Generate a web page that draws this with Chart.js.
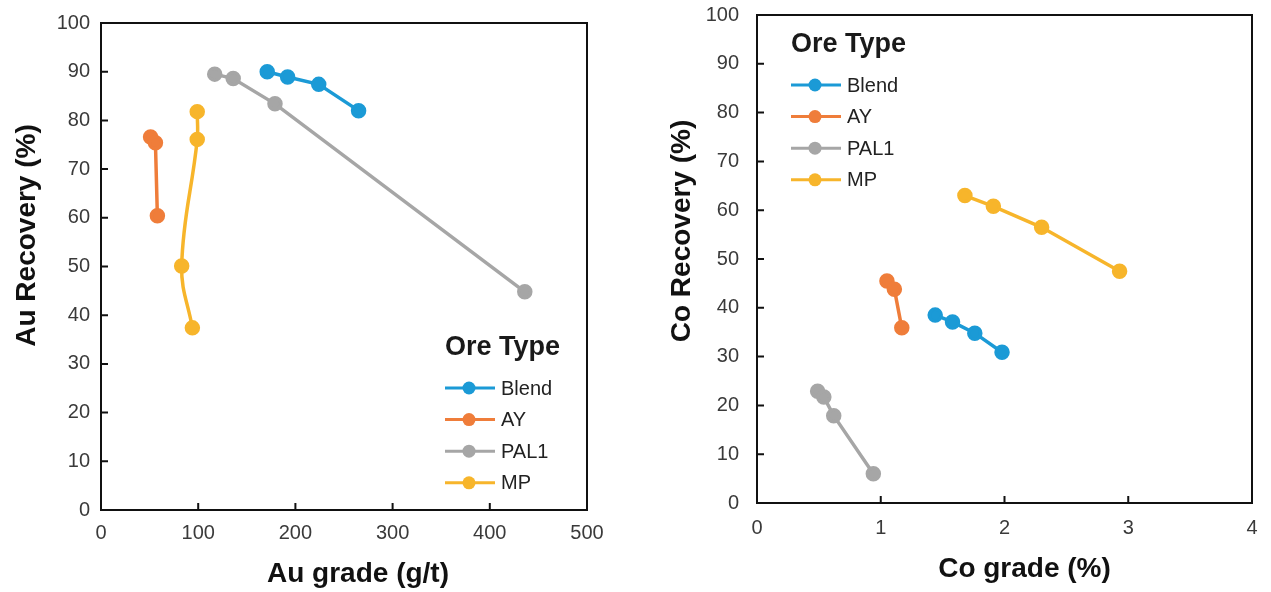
<!DOCTYPE html>
<html>
<head>
<meta charset="utf-8">
<title>Ore Type recovery vs grade</title>
<script src="https://cdn.jsdelivr.net/npm/chart.js@4.4.1/dist/chart.umd.min.js"></script>
<style>
  body { margin: 0; background: #fff; }
  .panel { position: absolute; top: 0; }
  #auPanel { left: 0; }
  #coPanel { left: 640px; }
</style>
</head>
<body>
<div class="panel" id="auPanel"><canvas id="auChart" width="630" height="592"></canvas></div>
<div class="panel" id="coPanel"><canvas id="coChart" width="631" height="592"></canvas></div>
<script>
// Ore types in legend order
const oreTypes = ['Blend', 'AY', 'PAL1', 'MP'];
const oreColors = ['#1b9ad6', '#ef7d3a', '#a6a6a6', '#f7b52b'];

// Au grade (g/t) vs Au recovery (%)
const auGradeBlend = [171, 192, 224, 265];
const auRecBlend = [90.0, 88.9, 87.4, 82.0];
const auGradeAY = [51, 56, 58];
const auRecAY = [76.6, 75.4, 60.4];
const auGradePAL1 = [117, 136, 179, 436];
const auRecPAL1 = [89.5, 88.6, 83.4, 44.8];
const auGradeMP = [94, 83, 99, 99];
const auRecMP = [37.4, 50.1, 76.1, 81.8];

// Co grade (%) vs Co recovery (%)
const coGradeBlend = [1.44, 1.58, 1.76, 1.98];
const coRecBlend = [38.5, 37.1, 34.8, 30.9];
const coGradeAY = [1.05, 1.11, 1.17];
const coRecAY = [45.5, 43.8, 35.9];
const coGradePAL1 = [0.49, 0.54, 0.62, 0.94];
const coRecPAL1 = [22.9, 21.7, 17.9, 6.0];
const coGradeMP = [1.68, 1.91, 2.30, 2.93];
const coRecMP = [63.0, 60.8, 56.5, 47.5];

const recoveryTicks = [0, 10, 20, 30, 40, 50, 60, 70, 80, 90, 100];
const auGradeTicks = [0, 100, 200, 300, 400, 500];
const coGradeTicks = [0, 1, 2, 3, 4];

Chart.defaults.font.family = "'Liberation Sans', Arial, sans-serif";
Chart.defaults.font.size = 20;
Chart.defaults.color = '#3a3a3a';

function zip(xs, ys) {
  return xs.map((x, i) => ({ x: x, y: ys[i] }));
}

function makeDataset(i, xs, ys, tension) {
  return {
    label: oreTypes[i],
    data: zip(xs, ys),
    showLine: true,
    borderColor: oreColors[i],
    backgroundColor: oreColors[i],
    borderWidth: 3.5,
    pointRadius: 6,
    pointHoverRadius: 6,
    tension: tension || 0
  };
}

// black box round the plot area with short inward tick marks
const framePlugin = {
  id: 'frame',
  beforeDatasetsDraw(chart) {
    const { ctx, chartArea: a, scales } = chart;
    ctx.save();
    ctx.strokeStyle = '#111';
    ctx.lineWidth = 2;
    ctx.strokeRect(a.left, a.top, a.right - a.left, a.bottom - a.top);
    const len = 7;
    ctx.beginPath();
    scales.x.ticks.forEach(t => {
      if (t.value === scales.x.min || t.value === scales.x.max) return;
      const px = scales.x.getPixelForValue(t.value);
      ctx.moveTo(px, a.bottom);
      ctx.lineTo(px, a.bottom - len);
    });
    scales.y.ticks.forEach(t => {
      if (t.value === scales.y.min || t.value === scales.y.max) return;
      const py = scales.y.getPixelForValue(t.value);
      ctx.moveTo(a.left, py);
      ctx.lineTo(a.left + len, py);
    });
    ctx.stroke();
    ctx.restore();
  }
};

// axis titles and the "Ore Type" legend, placed relative to the plot area
const annotatePlugin = {
  id: 'annotate',
  afterDatasetsDraw(chart, args, opts) {
    const { ctx, chartArea: a } = chart;
    const cx = (a.left + a.right) / 2;
    const cy = (a.top + a.bottom) / 2;
    ctx.save();
    ctx.fillStyle = '#111';
    ctx.font = "bold 28px 'Liberation Sans', Arial, sans-serif";
    ctx.textAlign = 'center';
    ctx.textBaseline = 'alphabetic';
    ctx.fillText(opts.xTitle, cx + opts.xTitleShift[0], a.bottom + opts.xTitleShift[1]);

    ctx.save();
    ctx.translate(a.left + opts.yTitleShift[0], cy + opts.yTitleShift[1]);
    ctx.rotate(-Math.PI / 2);
    ctx.fillText(opts.yTitle, 0, 0);
    ctx.restore();

    // legend
    const lx = a.left + opts.legendAt[0];
    const ly = a.top + opts.legendAt[1];
    ctx.textAlign = 'left';
    ctx.textBaseline = 'middle';
    ctx.font = "bold 27px 'Liberation Sans', Arial, sans-serif";
    ctx.fillStyle = '#1a1a1a';
    ctx.fillText('Ore Type', lx, ly);
    ctx.font = "20px 'Liberation Sans', Arial, sans-serif";
    chart.data.datasets.forEach((ds, i) => {
      const y = ly + 40 + i * 31.6;
      ctx.strokeStyle = ds.borderColor;
      ctx.lineWidth = 3;
      ctx.beginPath();
      ctx.moveTo(lx, y);
      ctx.lineTo(lx + 50, y);
      ctx.stroke();
      ctx.fillStyle = ds.backgroundColor;
      ctx.beginPath();
      ctx.arc(lx + 24, y, 6.5, 0, Math.PI * 2);
      ctx.fill();
      ctx.fillStyle = '#222';
      ctx.fillText(ds.label, lx + 56, y + 1);
    });
    ctx.restore();
  }
};

function buildChart(canvasId, datasets, xTicks, cfg) {
  return new Chart(document.getElementById(canvasId), {
    type: 'scatter',
    data: { datasets: datasets },
    options: {
      responsive: false,
      animation: false,
      layout: { padding: cfg.padding },
      plugins: {
        legend: { display: false },
        tooltip: { enabled: false },
        annotate: cfg.annotate
      },
      scales: {
        x: {
          type: 'linear',
          min: xTicks[0],
          max: xTicks[xTicks.length - 1],
          grid: { display: false, drawTicks: false },
          border: { display: false },
          afterBuildTicks: s => { s.ticks = xTicks.map(v => ({ value: v })); },
          afterFit: s => { s.height = cfg.xHeight; },
          ticks: { padding: cfg.xPad, maxRotation: 0 }
        },
        y: {
          type: 'linear',
          min: 0,
          max: 100,
          grid: { display: false, drawTicks: false },
          border: { display: false },
          afterBuildTicks: s => { s.ticks = recoveryTicks.map(v => ({ value: v })); },
          afterFit: s => {
            s.width = cfg.yWidth;
            // let the layout padding alone set the plot top
            s.paddingTop = 0;
            s.paddingBottom = 0;
          },
          ticks: { padding: cfg.yPad }
        }
      }
    },
    plugins: [framePlugin, annotatePlugin]
  });
}

buildChart('auChart', [
  makeDataset(0, auGradeBlend, auRecBlend),
  makeDataset(1, auGradeAY, auRecAY),
  makeDataset(2, auGradePAL1, auRecPAL1),
  makeDataset(3, auGradeMP, auRecMP, 0.4)
], auGradeTicks, {
  padding: { left: 0, top: 23, right: 43, bottom: 0 },
  yWidth: 101,
  xHeight: 82,
  xPad: 11,
  yPad: 11,
  annotate: {
    xTitle: 'Au grade (g/t)',
    yTitle: 'Au Recovery (%)',
    xTitleShift: [14, 72],
    yTitleShift: [-66, -31],
    legendAt: [344, 325]
  }
});

buildChart('coChart', [
  makeDataset(0, coGradeBlend, coRecBlend),
  makeDataset(1, coGradeAY, coRecAY),
  makeDataset(2, coGradePAL1, coRecPAL1),
  makeDataset(3, coGradeMP, coRecMP)
], coGradeTicks, {
  padding: { left: 0, top: 15, right: 19, bottom: 0 },
  yWidth: 117,
  xHeight: 89,
  xPad: 13,
  yPad: 18,
  annotate: {
    xTitle: 'Co grade (%)',
    yTitle: 'Co Recovery (%)',
    xTitleShift: [20, 74],
    yTitleShift: [-67, -28],
    legendAt: [34, 30]
  }
});
</script>
</body>
</html>
